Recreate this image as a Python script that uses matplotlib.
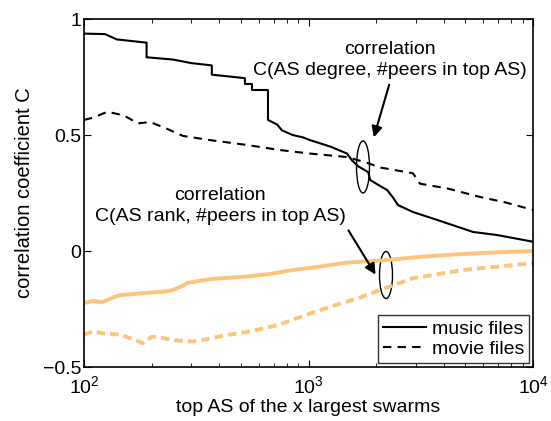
import matplotlib
matplotlib.use("Agg")
import matplotlib.pyplot as plt
from matplotlib.patches import Ellipse

plt.rcParams['font.family'] = ['Liberation Sans', 'DejaVu Sans']

# music files, C(AS degree, #peers in top AS)
music_deg_x = [100, 124, 140, 190, 190, 250, 300, 371, 371, 521, 521, 560, 560, 660, 660,
               725, 762, 850, 943, 1015, 1252, 1485, 1563, 1665, 1845, 1884, 2085, 2240,
               2380, 2504, 2920, 3740, 5410, 6900, 10000]
music_deg_y = [0.937, 0.935, 0.912, 0.898, 0.835, 0.825, 0.81, 0.80, 0.76, 0.745, 0.72, 0.72, 0.694,
               0.694, 0.565, 0.545, 0.52, 0.50, 0.49, 0.478, 0.45, 0.42, 0.39, 0.365, 0.34,
               0.306, 0.28, 0.263, 0.23, 0.198, 0.168, 0.134, 0.082, 0.069, 0.04]

# movie files, C(AS degree, #peers in top AS)
movie_deg_x = [100, 110, 127, 150, 174, 197, 230, 276, 364, 532, 748, 1015, 1485, 1825,
               2085, 2920, 3140, 4140, 5800, 7500, 10000]
movie_deg_y = [0.565, 0.575, 0.60, 0.585, 0.55, 0.556, 0.53, 0.496, 0.478, 0.457, 0.435, 0.42,
               0.405, 0.38, 0.36, 0.335, 0.29, 0.27, 0.233, 0.21, 0.177]

# music files, C(AS rank, #peers in top AS)
music_rank_x = [100, 110, 121, 135, 145, 170, 191, 230, 249, 275, 288, 330, 376, 450, 532,
                660, 851, 1015, 1485, 2240, 3140, 4140, 6000, 10000]
music_rank_y = [-0.224, -0.215, -0.22, -0.20, -0.19, -0.185, -0.18, -0.175, -0.168, -0.15,
                -0.138, -0.128, -0.12, -0.115, -0.11, -0.10, -0.082, -0.073, -0.05, -0.039,
                -0.025, -0.017, -0.008, 0.0]

# movie files, C(AS rank, #peers in top AS)
movie_rank_x = [100, 110, 121, 145, 165, 183, 200, 211, 249, 306, 353, 433, 532, 725, 1015,
                1252, 1700, 2085, 2920, 4880, 10000]
movie_rank_y = [-0.362, -0.345, -0.355, -0.36, -0.38, -0.397, -0.37, -0.37, -0.384, -0.39,
                -0.38, -0.362, -0.349, -0.32, -0.27, -0.24, -0.20, -0.168, -0.117, -0.082, -0.052]

legend_labels = ["music files", "movie files"]
orange = "#FDC57C"

H = 421
fig = plt.figure(figsize=(5.51, 4.21), dpi=100)
ax = fig.add_axes([84/551, 1-367/421, (533-84)/551, (367-19)/421])

ax.plot(music_rank_x, music_rank_y, color=orange, lw=2.8, solid_capstyle='butt')
ax.plot(movie_rank_x, movie_rank_y, color=orange, lw=2.8, ls=(0, (2.2, 1.3)))
l1, = ax.plot(music_deg_x, music_deg_y, color='black', lw=1.5)
l2, = ax.plot(movie_deg_x, movie_deg_y, color='black', lw=1.5, ls=(0, (4, 3)))

ax.set_xscale('log')
ax.set_xlim(100, 10000)
ax.set_ylim(-0.5, 1)
ax.set_yticks([-0.5, 0, 0.5, 1])
ax.set_yticklabels(['\u22120.5', '0', '0.5', '1'])
ax.tick_params(which='both', direction='in', top=True, right=True, labelsize=14)
ax.tick_params(axis='y', pad=2)
ax.tick_params(axis='x', pad=6)
ax.tick_params(which='major', length=5, width=0.8)
ax.tick_params(which='minor', length=3, width=0.6)
for s in ax.spines.values():
    s.set_linewidth(1.2)

ax.set_xlabel('top AS of the x largest swarms', fontsize=14, labelpad=1)
ax.set_ylabel('correlation coefficient C', fontsize=14.5, labelpad=6)

# annotations (pixel positions measured from top-left)
ax.text(390, H - 60, 'correlation\nC(AS degree, #peers in top AS)', transform=None,
        ha='center', va='center', fontsize=14, linespacing=1.3)
ax.text(220, H - 206, 'correlation\nC(AS rank, #peers in top AS)', transform=None,
        ha='center', va='center', fontsize=14, linespacing=1.3)

def px(x, y):
    return ax.transData.inverted().transform((x, H - y))

ax.annotate('', xy=px(373, 140), xytext=px(390, 82),
            arrowprops=dict(arrowstyle='-|>', color='black', lw=1.5, mutation_scale=16))
ax.annotate('', xy=px(377, 277), xytext=px(347, 228),
            arrowprops=dict(arrowstyle='-|>', color='black', lw=1.5, mutation_scale=16))

for (cx, cy, w, h) in [(363, 167, 13, 52), (386, 275, 13, 47)]:
    e = Ellipse((cx, H - cy), w, h, transform=None, fill=False, ec='black', lw=1.0)
    ax.add_artist(e)

leg = ax.legend([l1, l2], legend_labels, loc='lower right', fontsize=14, frameon=True,
                fancybox=False, edgecolor='black', handlelength=2.2, handletextpad=0.3,
                borderpad=0.25, labelspacing=0.15, borderaxespad=0.2)
leg.get_frame().set_linewidth(1.0)

fig.savefig('out.png', dpi=100)
